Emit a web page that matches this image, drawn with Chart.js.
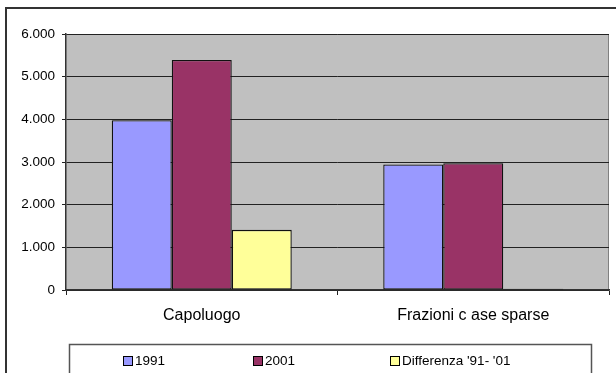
<!DOCTYPE html>
<html>
<head>
<meta charset="utf-8">
<script src="https://cdn.jsdelivr.net/npm/chart.js@4/dist/chart.umd.min.js"></script>
<style>
  html, body { margin: 0; padding: 0; background: #ffffff; }
  #wrap { width: 616px; height: 373px; }
</style>
</head>
<body>
<div id="wrap"><canvas id="c" width="616" height="373"></canvas></div>
<script>
// Popolazione residente per località
const categories = ['Capoluogo', 'Frazioni c ase sparse'];
const seriesNames = ['1991', '2001', "Differenza '91- '01"];
const values1991 = [3980, 2940];
const values2001 = [5390, 2970];
const valuesDiff = [1410, 30];
const yTicks = [0, 1000, 2000, 3000, 4000, 5000, 6000];

const colors = ['#9999FF', '#993366', '#FFFF99'];
const FONT = 'Arial, "Liberation Sans", sans-serif';

function fmtThousands(v) {
  return String(Math.round(v)).replace(/\B(?=(\d{3})+(?!\d))/g, '.');
}

// Frame, grey plot background and the boxed legend
const decorations = {
  id: 'decorations',
  beforeDraw(chart) {
    const ctx = chart.ctx;
    const a = chart.chartArea;
    ctx.save();
    ctx.fillStyle = '#ffffff';
    ctx.fillRect(0, 0, chart.width, chart.height);
    // outer frame
    ctx.strokeStyle = '#333333';
    ctx.lineWidth = 2;
    ctx.beginPath();
    ctx.moveTo(6, chart.height + 2);
    ctx.lineTo(6, 8);
    ctx.lineTo(chart.width + 2, 8);
    ctx.stroke();
    // plot area
    ctx.fillStyle = '#C0C0C0';
    ctx.fillRect(a.left, a.top, a.right - a.left, a.bottom - a.top);
    ctx.strokeStyle = '#808080';
    ctx.lineWidth = 1;
    ctx.beginPath();
    ctx.moveTo(a.left, a.top + 0.5);
    ctx.lineTo(a.right - 0.5, a.top + 0.5);
    ctx.lineTo(a.right - 0.5, a.bottom);
    ctx.stroke();
    // legend box
    ctx.strokeStyle = '#555555';
    ctx.lineWidth = 1.5;
    ctx.beginPath();
    ctx.moveTo(69.5, chart.height + 2);
    ctx.lineTo(69.5, 344.5);
    ctx.lineTo(591.5, 344.5);
    ctx.lineTo(591.5, chart.height + 2);
    ctx.stroke();
    const itemX = [123, 253, 390];
    ctx.font = '13.5px ' + FONT;
    ctx.textBaseline = 'middle';
    ctx.textAlign = 'left';
    chart.data.datasets.forEach((ds, i) => {
      const x = itemX[i];
      ctx.fillStyle = ds.backgroundColor;
      ctx.fillRect(x + 0.5, 356.5, 9, 9);
      ctx.strokeStyle = '#000000';
      ctx.lineWidth = 1;
      ctx.strokeRect(x + 0.5, 356.5, 9, 9);
      ctx.fillStyle = '#000000';
      ctx.fillText(ds.label, x + 12, 361.5);
    });
    ctx.restore();
  }
};

new Chart(document.getElementById('c'), {
  type: 'bar',
  data: {
    labels: categories,
    datasets: [
      { label: seriesNames[0], data: values1991, backgroundColor: colors[0] },
      { label: seriesNames[1], data: values2001, backgroundColor: colors[1] },
      { label: seriesNames[2], data: valuesDiff, backgroundColor: colors[2] }
    ].map(d => Object.assign(d, {
      borderColor: '#111111', borderWidth: 1.3, borderSkipped: false,
      barPercentage: 1.0, categoryPercentage: 0.663
    }))
  },
  options: {
    responsive: false,
    animation: false,
    devicePixelRatio: 1,
    layout: { padding: { left: 0, top: 34, right: 7, bottom: 0 } },
    plugins: { legend: { display: false }, tooltip: { enabled: false } },
    scales: {
      x: {
        offset: true,
        grid: {
          offset: true, drawOnChartArea: false, tickLength: 5,
          color: '#222222', lineWidth: 1
        },
        border: { color: '#333333', width: 1.5 },
        ticks: { color: '#000000', font: { family: FONT, size: 16 }, padding: 11, maxRotation: 0 },
        afterFit(s) { s.height = 83; }
      },
      y: {
        min: 0, max: 6000,
        afterBuildTicks(s) { s.ticks = yTicks.map(v => ({ value: v })); },
        grid: { color: '#222222', lineWidth: 1, tickLength: 4 },
        border: { color: '#333333', width: 1.5 },
        ticks: {
          color: '#000000', font: { family: FONT, size: 13.5 }, padding: 7,
          callback: v => fmtThousands(v)
        },
        afterFit(s) { s.width = 66; }
      }
    }
  },
  plugins: [decorations]
});
</script>
</body>
</html>
